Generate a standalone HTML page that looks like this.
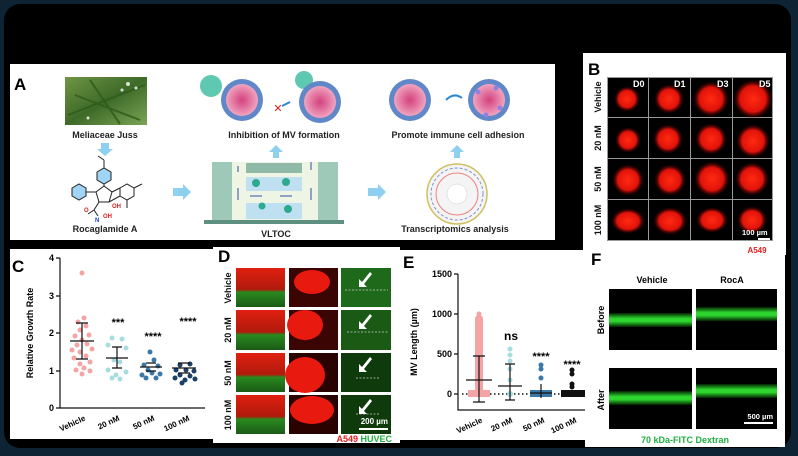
<!DOCTYPE html>
<html><head><meta charset="utf-8"><style>
html,body{margin:0;padding:0;background:#0e2434;}
svg{display:block;font-family:"Liberation Sans",Arial,sans-serif;}
</style></head><body>
<svg width="798" height="456" viewBox="0 0 798 456" xmlns="http://www.w3.org/2000/svg">
<defs>
<radialGradient id="pk" cx="50%" cy="50%" r="50%"><stop offset="0" stop-color="#d4417e"/><stop offset="1" stop-color="#f0a4c0"/></radialGradient>
<radialGradient id="rd" cx="50%" cy="50%" r="50%"><stop offset="0" stop-color="#ff2a10"/><stop offset="0.65" stop-color="#e0120a"/><stop offset="1" stop-color="#300" stop-opacity="0"/></radialGradient>
<linearGradient id="gb" x1="0" y1="0" x2="0" y2="1"><stop offset="0" stop-color="#020"/><stop offset="0.4" stop-color="#2fd62f"/><stop offset="0.6" stop-color="#2fd62f"/><stop offset="1" stop-color="#020"/></linearGradient>
<linearGradient id="plant" x1="0" y1="0" x2="1" y2="1"><stop offset="0" stop-color="#6f9645"/><stop offset="0.5" stop-color="#3e6a28"/><stop offset="1" stop-color="#7aa556"/></linearGradient>
<linearGradient id="dg" x1="0" y1="0" x2="0" y2="1"><stop offset="0" stop-color="#e02010"/><stop offset="0.55" stop-color="#b01a0c"/><stop offset="0.62" stop-color="#2a8a20"/><stop offset="1" stop-color="#1a5a15"/></linearGradient>
</defs>
<rect x="0" y="0" width="798" height="456" fill="#0e2434"/>
<rect x="4" y="4" width="787" height="444" rx="16" fill="#000"/>

<!-- Panel A -->
<rect x="10" y="64" width="545" height="176" fill="#fff"/>
<text x="14" y="90" font-size="17" font-weight="bold">A</text>
<rect x="65" y="77" width="82" height="48" fill="url(#plant)"/>
<g stroke="#2f5a1a" stroke-width="2" fill="none" opacity="0.8"><path d="M68 115 L145 85"/><path d="M75 95 L140 120"/><path d="M90 80 L120 124"/></g>
<g fill="#fff" opacity="0.8"><circle cx="128" cy="84" r="2"/><circle cx="136" cy="88" r="1.5"/><circle cx="122" cy="90" r="1.5"/><circle cx="88" cy="118" r="1.5"/></g>
<text x="105" y="138" font-size="9" font-weight="bold" text-anchor="middle" fill="#222">Meliaceae Juss</text>
<path d="M101 143 h8 v6 h4 l-8 7 l-8 -7 h4z" fill="#8fd0f0"/>
<g stroke="#222" stroke-width="1" fill="none">
<polygon points="97,172 104,168 111,172 111,180 104,184 97,180" fill="#9fd4f4"/>
<line x1="104" y1="168" x2="104" y2="160"/><line x1="104" y1="160" x2="98" y2="156"/>
<polygon points="72,188 79,184 86,188 86,196 79,200 72,196" fill="#9fd4f4"/>
<polygon points="96,192 104,186 112,192 109,202 99,202"/>
<line x1="104" y1="184" x2="104" y2="186"/><line x1="86" y1="192" x2="96" y2="192"/>
<polygon points="120,188 127,184 134,188 134,196 127,200 120,196"/>
<line x1="112" y1="192" x2="120" y2="188"/><line x1="109" y1="202" x2="120" y2="196"/>
<line x1="134" y1="188" x2="142" y2="184"/><line x1="127" y1="200" x2="127" y2="208"/>
<line x1="99" y1="202" x2="94" y2="210"/><line x1="94" y1="210" x2="88" y2="214"/><line x1="94" y1="210" x2="98" y2="216"/>
</g>
<g font-size="6" fill="#e02020" font-weight="bold"><text x="112" y="208">OH</text><text x="103" y="218">OH</text><text x="84" y="212">O</text></g>
<text x="95" y="222" font-size="6" fill="#2040d0" font-weight="bold">N</text>
<text x="105" y="232" font-size="9" font-weight="bold" text-anchor="middle" fill="#222">Rocaglamide A</text>
<path d="M173 188 h10 v-4 l8 8 l-8 8 v-4 h-10z" fill="#8fd0f0"/>
<rect x="204" y="220" width="140" height="4" fill="#5d9080"/>
<rect x="212" y="162" width="20" height="58" fill="#9ec8b8"/>
<rect x="318" y="162" width="20" height="58" fill="#9ec8b8"/>
<rect x="232" y="162" width="70" height="58" fill="#eef5e4"/>
<rect x="302" y="162" width="16" height="58" fill="#eef5e4"/>
<rect x="246" y="163" width="56" height="10" fill="#8fbaa8"/>
<rect x="246" y="177" width="56" height="14" fill="#bfe0f0"/>
<rect x="246" y="203" width="56" height="16" fill="#bfe0f0"/>
<circle cx="256" cy="183" r="4" fill="#2fa890"/><circle cx="286" cy="182" r="4" fill="#2fa890"/>
<circle cx="262" cy="206" r="3.5" fill="#2fa890"/><circle cx="288" cy="209" r="4" fill="#2fa890"/>
<g stroke="#3050a0" stroke-width="1"><line x1="238" y1="166" x2="238" y2="172"/><line x1="238" y1="188" x2="238" y2="200"/><line x1="311" y1="170" x2="311" y2="162"/><line x1="311" y1="200" x2="311" y2="188"/><line x1="250" y1="196" x2="262" y2="196"/><line x1="280" y1="196" x2="292" y2="196"/></g>
<text x="276" y="237" font-size="9" font-weight="bold" text-anchor="middle" fill="#222">VLTOC</text>
<path d="M273 158 v-6 h-4 l7 -7 l7 7 h-4 v6z" fill="#8fd0f0"/>
<g>
<circle cx="211" cy="86" r="11" fill="#5fc8b0"/>
<circle cx="242" cy="100" r="21" fill="#6088c8"/><circle cx="242" cy="100" r="16" fill="url(#pk)"/>
<circle cx="304" cy="80" r="9" fill="#5fc8b0"/><circle cx="311" cy="90" r="5" fill="#5fc8b0"/>
<circle cx="320" cy="102" r="21" fill="#6088c8"/><circle cx="320" cy="102" r="16" fill="url(#pk)"/>
<text x="278" y="112" font-size="11" fill="#e02020" text-anchor="middle">✕</text>
<path d="M282 106 l8 -4" stroke="#2a88d0" stroke-width="2"/>
</g>
<text x="284" y="138" font-size="9" font-weight="bold" text-anchor="middle" fill="#222">Inhibition of MV formation</text>
<path d="M368 188 h10 v-4 l8 8 l-8 8 v-4 h-10z" fill="#8fd0f0"/>
<circle cx="410" cy="100" r="21" fill="#6088c8"/><circle cx="410" cy="100" r="16" fill="url(#pk)"/>
<circle cx="489" cy="100" r="21" fill="#6088c8"/><circle cx="489" cy="100" r="16" fill="url(#pk)"/>
<g fill="#9080e0"><circle cx="478" cy="92" r="2.5"/><circle cx="496" cy="88" r="2.5"/><circle cx="500" cy="108" r="2.5"/><circle cx="486" cy="115" r="2.5"/></g>
<path d="M446 100 q8 -8 16 -2" stroke="#2a88d0" stroke-width="2" fill="none"/>
<text x="458" y="138" font-size="9" font-weight="bold" text-anchor="middle" fill="#222">Promote immune cell adhesion</text>
<path d="M454 158 v-6 h-4 l7 -7 l7 7 h-4 v6z" fill="#8fd0f0"/>
<circle cx="457" cy="194" r="30" fill="#f4f4f4" stroke="#d0c060" stroke-width="1.5"/>
<circle cx="457" cy="194" r="26" fill="none" stroke="#8090d0" stroke-width="1" stroke-dasharray="3 2"/>
<circle cx="457" cy="194" r="21" fill="none" stroke="#f08080" stroke-width="1"/>
<circle cx="457" cy="194" r="10" fill="#fff" stroke="#ccc" stroke-width="0.5"/>
<text x="455" y="232" font-size="9" font-weight="bold" text-anchor="middle" fill="#222">Transcriptomics analysis</text>

<!-- Panel B -->
<rect x="583" y="53" width="203" height="202" fill="#fff"/>
<text x="588" y="75" font-size="17" font-weight="bold">B</text>
<g>
<rect x="607" y="77" width="166" height="164" fill="#999"/>
<rect x="608" y="78" width="40" height="39" fill="#000"/><rect x="649" y="78" width="41" height="39" fill="#000"/><rect x="691" y="78" width="41" height="39" fill="#000"/><rect x="733" y="78" width="39" height="39" fill="#000"/>
<rect x="608" y="118" width="40" height="40" fill="#000"/><rect x="649" y="118" width="41" height="40" fill="#000"/><rect x="691" y="118" width="41" height="40" fill="#000"/><rect x="733" y="118" width="39" height="40" fill="#000"/>
<rect x="608" y="159" width="40" height="40" fill="#000"/><rect x="649" y="159" width="41" height="40" fill="#000"/><rect x="691" y="159" width="41" height="40" fill="#000"/><rect x="733" y="159" width="39" height="40" fill="#000"/>
<rect x="608" y="200" width="40" height="40" fill="#000"/><rect x="649" y="200" width="41" height="40" fill="#000"/><rect x="691" y="200" width="41" height="40" fill="#000"/><rect x="733" y="200" width="39" height="40" fill="#000"/>
<g fill="url(#rd)">
<circle cx="627" cy="99" r="13"/><circle cx="669" cy="99" r="15"/><circle cx="711" cy="99" r="18"/><circle cx="753" cy="99" r="20"/>
<circle cx="628" cy="140" r="13"/><circle cx="668" cy="139" r="15"/><circle cx="711" cy="139" r="16"/><circle cx="753" cy="141" r="17"/>
<circle cx="628" cy="180" r="16"/><circle cx="670" cy="180" r="16"/><circle cx="712" cy="179" r="18"/><circle cx="752" cy="179" r="17"/>
<ellipse cx="628" cy="221" rx="17" ry="13"/><ellipse cx="670" cy="221" rx="17" ry="14"/><ellipse cx="712" cy="220" rx="16" ry="13"/><ellipse cx="752" cy="220" rx="15" ry="14"/>
</g>
<g fill="#fff" font-size="9" font-weight="bold"><text x="633" y="87">D0</text><text x="674" y="87">D1</text><text x="717" y="87">D3</text><text x="759" y="87">D5</text>
<text x="742" y="235" font-size="7.5">100 µm</text></g>
<rect x="758" y="238" width="12" height="2" fill="#fff"/>
<g font-size="9" font-weight="bold" fill="#111" text-anchor="middle">
<text transform="translate(601,97) rotate(-90)">Vehicle</text>
<text transform="translate(601,138) rotate(-90)">20 nM</text>
<text transform="translate(601,179) rotate(-90)">50 nM</text>
<text transform="translate(601,220) rotate(-90)">100 nM</text>
</g>
<text x="757" y="253" font-size="8" font-weight="bold" fill="#e02020" text-anchor="middle">A549</text>
</g>

<!-- Bottom row -->
<rect x="10" y="249" width="203" height="190" fill="#fff"/>
<rect x="213" y="247" width="187" height="196" fill="#fff"/>
<rect x="400" y="250" width="185" height="190" fill="#fff"/>
<rect x="585" y="253" width="200" height="194" fill="#fff"/>

<!-- C -->
<text x="12" y="272" font-size="17" font-weight="bold">C</text>
<g stroke="#111" stroke-width="1.2" fill="none"><path d="M60 258 V408 H205"/><path d="M56 258h4M56 296h4M56 333h4M56 371h4M56 408h4"/></g>
<g font-size="9" font-weight="bold" text-anchor="end"><text x="54" y="261">4</text><text x="54" y="299">3</text><text x="54" y="336">2</text><text x="54" y="374">1</text><text x="54" y="411">0</text></g>
<text transform="translate(33,333) rotate(-90)" font-size="9" font-weight="bold" text-anchor="middle">Relative Growth Rate</text>
<g fill="#f4a4a4">
<circle cx="82" cy="273" r="2.5"/><circle cx="84" cy="318" r="2.5"/><circle cx="78" cy="322" r="2.5"/><circle cx="86" cy="326" r="2.5"/><circle cx="80" cy="330" r="2.5"/><circle cx="75" cy="336" r="2.5"/><circle cx="89" cy="335" r="2.5"/><circle cx="82" cy="340" r="2.5"/><circle cx="77" cy="345" r="2.5"/><circle cx="87" cy="344" r="2.5"/><circle cx="72" cy="350" r="2.5"/><circle cx="92" cy="349" r="2.5"/><circle cx="80" cy="352" r="2.5"/><circle cx="86" cy="356" r="2.5"/><circle cx="74" cy="358" r="2.5"/><circle cx="90" cy="362" r="2.5"/><circle cx="80" cy="364" r="2.5"/><circle cx="84" cy="368" r="2.5"/><circle cx="76" cy="370" r="2.5"/><circle cx="90" cy="371" r="2.5"/><circle cx="82" cy="374" r="2.5"/>
</g>
<g fill="#a8dde0">
<circle cx="112" cy="338" r="2.5"/><circle cx="122" cy="339" r="2.5"/><circle cx="108" cy="345" r="2.5"/><circle cx="126" cy="348" r="2.5"/><circle cx="114" cy="360" r="2.5"/><circle cx="120" cy="362" r="2.5"/><circle cx="108" cy="370" r="2.5"/><circle cx="126" cy="372" r="2.5"/><circle cx="112" cy="378" r="2.5"/><circle cx="120" cy="379" r="2.5"/><circle cx="116" cy="375" r="2.5"/>
</g>
<g fill="#3a78a8">
<circle cx="150" cy="352" r="2.5"/><circle cx="154" cy="360" r="2.5"/><circle cx="144" cy="365" r="2.5"/><circle cx="158" cy="366" r="2.5"/><circle cx="148" cy="370" r="2.5"/><circle cx="152" cy="373" r="2.5"/><circle cx="142" cy="375" r="2.5"/><circle cx="160" cy="374" r="2.5"/><circle cx="146" cy="378" r="2.5"/><circle cx="156" cy="378" r="2.5"/>
</g>
<g fill="#1b3f66">
<circle cx="180" cy="365" r="2.5"/><circle cx="190" cy="364" r="2.5"/><circle cx="176" cy="370" r="2.5"/><circle cx="186" cy="370" r="2.5"/><circle cx="194" cy="371" r="2.5"/><circle cx="180" cy="375" r="2.5"/><circle cx="190" cy="376" r="2.5"/><circle cx="175" cy="378" r="2.5"/><circle cx="185" cy="380" r="2.5"/><circle cx="195" cy="379" r="2.5"/><circle cx="182" cy="383" r="2.5"/>
</g>
<g stroke="#111" stroke-width="1.2">
<path d="M70 341h24M76 323h12M76 359h12M82 323v36"/>
<path d="M106 358h22M112 347h10M112 368h10M117 347v21"/>
<path d="M140 367h22M146 363h10M146 371h10"/>
<path d="M172 368h24M178 363h12M178 373h12"/>
</g>
<g font-size="11" font-weight="bold" text-anchor="middle"><text x="118" y="326">***</text><text x="153" y="340">****</text><text x="188" y="325">****</text></g>
<g font-size="8" font-weight="bold" text-anchor="end">
<text transform="translate(86,420) rotate(-25)">Vehicle</text>
<text transform="translate(120,420) rotate(-25)">20 nM</text>
<text transform="translate(155,420) rotate(-25)">50 nM</text>
<text transform="translate(190,420) rotate(-25)">100 nM</text>
</g>

<!-- D -->
<text x="218" y="262" font-size="17" font-weight="bold">D</text>
<g>
<rect x="236" y="268" width="49" height="39" fill="url(#dg)"/><rect x="289" y="268" width="49" height="39" fill="#3a0502"/><rect x="341" y="268" width="50" height="39" fill="#1f6a1a"/>
<rect x="236" y="310" width="49" height="40" fill="url(#dg)"/><rect x="289" y="310" width="49" height="40" fill="#3a0502"/><rect x="341" y="310" width="50" height="40" fill="#1a5a15"/>
<rect x="236" y="353" width="49" height="39" fill="url(#dg)"/><rect x="289" y="353" width="49" height="39" fill="#2a0301"/><rect x="341" y="353" width="50" height="39" fill="#0e3a0c"/>
<rect x="236" y="395" width="49" height="39" fill="url(#dg)"/><rect x="289" y="395" width="49" height="39" fill="#2a0301"/><rect x="341" y="395" width="50" height="39" fill="#0e3a0c"/>
<g fill="#e81a10"><ellipse cx="312" cy="282" rx="18" ry="12"/><ellipse cx="305" cy="325" rx="18" ry="15"/><ellipse cx="305" cy="375" rx="20" ry="18"/><ellipse cx="312" cy="410" rx="22" ry="14"/></g>
<g fill="#fff"><path d="M370 272 l-8 10 l-3 -3 l0 8 l8 0 l-3 -3 l8 -10z"/><path d="M370 314 l-8 10 l-3 -3 l0 8 l8 0 l-3 -3 l8 -10z"/><path d="M370 357 l-8 10 l-3 -3 l0 8 l8 0 l-3 -3 l8 -10z"/><path d="M370 399 l-8 10 l-3 -3 l0 8 l8 0 l-3 -3 l8 -10z"/></g>
<g stroke="#ccc" stroke-dasharray="2 1.5" stroke-width="0.8"><line x1="345" y1="290" x2="388" y2="290"/><line x1="347" y1="332" x2="388" y2="332"/><line x1="356" y1="378" x2="380" y2="378"/><line x1="356" y1="414" x2="380" y2="414"/></g>
<text x="388" y="424" font-size="8" font-weight="bold" fill="#fff" text-anchor="end">200 µm</text>
<rect x="359" y="428" width="29" height="2" fill="#fff"/>
<g font-size="9" font-weight="bold" fill="#111" text-anchor="middle">
<text transform="translate(231,288) rotate(-90)">Vehicle</text>
<text transform="translate(231,330) rotate(-90)">20 nM</text>
<text transform="translate(231,373) rotate(-90)">50 nM</text>
<text transform="translate(231,415) rotate(-90)">100 nM</text>
</g>
<text x="392" y="442" font-size="9" font-weight="bold" text-anchor="end"><tspan fill="#e02020">A549</tspan> <tspan fill="#20b040">HUVEC</tspan></text>
</g>

<!-- E -->
<text x="403" y="268" font-size="17" font-weight="bold">E</text>
<g stroke="#111" stroke-width="1.2" fill="none"><path d="M458 274 V410 H585"/><path d="M454 274h4M454 314h4M454 354h4M454 394h4"/></g>
<line x1="462" y1="394" x2="585" y2="394" stroke="#111" stroke-dasharray="1.5 2.5" stroke-width="1.5"/>
<g font-size="9" font-weight="bold" text-anchor="end"><text x="452" y="277">1500</text><text x="452" y="317">1000</text><text x="452" y="357">500</text><text x="452" y="397">0</text></g>
<text transform="translate(417,342) rotate(-90)" font-size="9" font-weight="bold" text-anchor="middle">MV Length (µm)</text>
<rect x="475" y="315" width="8" height="79" rx="4" fill="#f4a4a4"/>
<rect x="468" y="390" width="22" height="7" fill="#f4a4a4"/>
<circle cx="479" cy="314" r="2.5" fill="#f4a4a4"/><circle cx="479" cy="320" r="2.5" fill="#f4a4a4"/><circle cx="479" cy="338" r="2.5" fill="#f4a4a4"/>
<g fill="#a8dde0"><circle cx="510" cy="349" r="2.5"/><circle cx="510" cy="355" r="2.5"/><circle cx="510" cy="361" r="2.5"/><circle cx="510" cy="369" r="2.5"/><circle cx="510" cy="380" r="2.5"/><circle cx="510" cy="394" r="3"/></g>
<g fill="#3a78a8"><circle cx="541" cy="365" r="2.5"/><circle cx="541" cy="369" r="2.5"/><circle cx="541" cy="378" r="2.5"/><rect x="530" y="390" width="22" height="7"/></g>
<g fill="#111"><circle cx="572" cy="370" r="2.5"/><circle cx="572" cy="374" r="2.5"/><circle cx="572" cy="384" r="2.5"/><circle cx="572" cy="387" r="2.5"/><rect x="561" y="390" width="24" height="7"/></g>
<g stroke="#111" stroke-width="1.2">
<path d="M466 380h26M479 356v46M473 356h12M473 402h12"/>
<path d="M498 386h24M510 364v36M505 364h10M505 400h10"/>
<path d="M530 393h22M541 384v14"/>
<path d="M561 393h22"/>
</g>
<g font-size="11" font-weight="bold" text-anchor="middle"><text x="511" y="340" font-size="12">ns</text><text x="541" y="360">****</text><text x="572" y="368">****</text></g>
<g font-size="8" font-weight="bold" text-anchor="end">
<text transform="translate(483,422) rotate(-25)">Vehicle</text>
<text transform="translate(513,422) rotate(-25)">20 nM</text>
<text transform="translate(545,422) rotate(-25)">50 nM</text>
<text transform="translate(577,422) rotate(-25)">100 nM</text>
</g>

<!-- F -->
<text x="591" y="265" font-size="17" font-weight="bold">F</text>
<g font-size="9" font-weight="bold" text-anchor="middle"><text x="652" y="283">Vehicle</text><text x="732" y="283">RocA</text>
<text transform="translate(604,320) rotate(-90)">Before</text><text transform="translate(604,400) rotate(-90)">After</text></g>
<rect x="609" y="289" width="83" height="61" fill="#000"/><rect x="696" y="289" width="81" height="61" fill="#000"/>
<rect x="609" y="368" width="83" height="61" fill="#000"/><rect x="696" y="368" width="81" height="61" fill="#000"/>
<rect x="609" y="313" width="83" height="14" fill="url(#gb)"/>
<rect x="696" y="307" width="81" height="14" fill="url(#gb)"/>
<rect x="609" y="391" width="83" height="14" fill="url(#gb)"/>
<rect x="696" y="384" width="81" height="14" fill="url(#gb)"/>
<text x="773" y="419" font-size="7.5" font-weight="bold" fill="#fff" text-anchor="end">500 µm</text>
<rect x="744" y="422" width="29" height="2" fill="#fff"/>
<text x="685" y="443" font-size="9" font-weight="bold" fill="#20b040" text-anchor="middle">70 kDa-FITC Dextran</text>
</svg>
</body></html>
